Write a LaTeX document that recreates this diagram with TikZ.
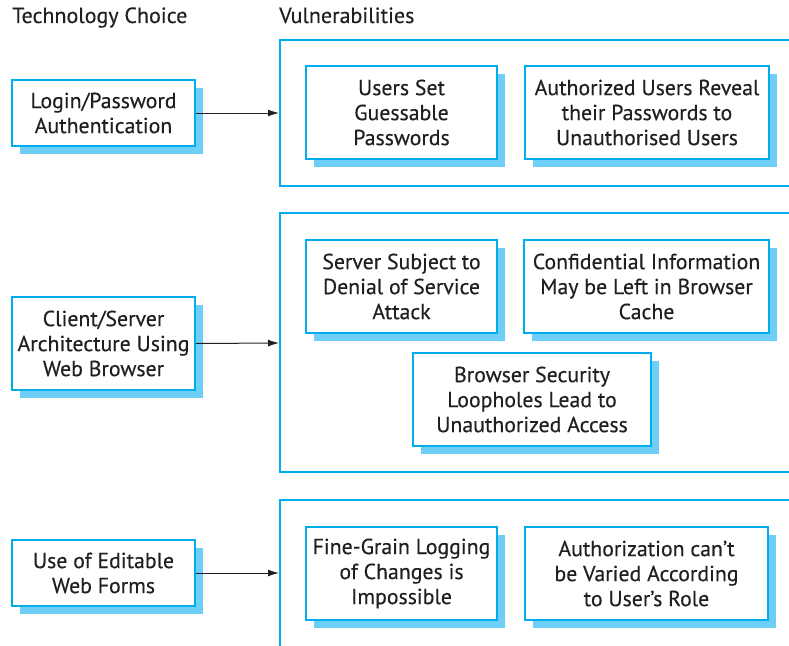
\documentclass[tikz,border=0pt]{standalone}
\usepackage{fontspec}
\setmainfont{PT Sans}[BoldFont=PT Sans, BoldFeatures={FakeBold=0.3}]
\usetikzlibrary{shadows,arrows.meta}
\definecolor{bord}{HTML}{00AEEF}
\definecolor{shad}{HTML}{6DCFF6}
\definecolor{ink}{HTML}{231F20}
\tikzset{
  vbox/.style={draw=bord, line width=2pt, fill=white, align=center, inner sep=0pt,
    text=ink, font=\fontsize{21.8}{25}\selectfont\bfseries,
    drop shadow={shadow xshift=8pt, shadow yshift=-8pt, fill=shad, opacity=1}},
  frame/.style={draw=bord, line width=2pt},
  conn/.style={draw=ink, line width=1pt, -{Latex[length=11pt,width=7pt]}},
  head/.style={text=ink, font=\fontsize{22}{25}\selectfont\bfseries, inner sep=0pt, anchor=base west}
}
\begin{document}
\begin{tikzpicture}[x=1pt,y=-1pt]
\useasboundingbox (0,0) rectangle (789,645);
\node[head] (h1) at (12,23) {Technology Choice};
\node[head] (h2) at (279,23) {Vulnerabilities};
% frames
\draw[frame] (790,40) -- (280,40) -- (280,186) -- (790,186);
\draw[frame] (790,213) -- (280,213) -- (280,472) -- (790,472);
\draw[frame] (790,500) -- (280,500) -- (280,646);
\coordinate (f1) at (279,113);
\coordinate (f2) at (279,343);
\coordinate (f3) at (279,573);
% left boxes
\node[vbox, minimum width=183pt, minimum height=66pt] (login) at (103.5,113) {Login/Password\\Authentication};
\node[vbox, minimum width=183pt, minimum height=93pt] (client) at (103.5,343.5) {Client/Server\\Architecture Using\\Web Browser};
\node[vbox, minimum width=183pt, minimum height=66pt] (forms) at (103.5,573) {Use of Editable\\Web Forms};
% vulnerability boxes
\node[vbox, minimum width=191pt, minimum height=93pt] (guess) at (401.5,112.5) {Users Set\\Guessable\\Passwords};
\node[vbox, minimum width=244pt, minimum height=93pt] (reveal) at (647,112.5) {Authorized Users Reveal\\their Passwords to\\Unauthorised Users};
\node[vbox, minimum width=191pt, minimum height=93pt] (dos) at (401.5,286.5) {Server Subject to\\Denial of Service\\Attack};
\node[vbox, minimum width=245pt, minimum height=93pt] (cache) at (646.5,286.5) {Confidential Information\\May be Left in Browser\\Cache};
\node[vbox, minimum width=238pt, minimum height=93pt] (loop) at (532,399.5) {Browser Security\\Loopholes Lead to\\Unauthorized Access};
\node[vbox, minimum width=191pt, minimum height=93pt] (log) at (401.5,573.5) {Fine-Grain Logging\\of Changes is\\Impossible};
\node[vbox, minimum width=243pt, minimum height=93pt] (role) at (646.5,573.5) {Authorization can’t\\be Varied According\\to User’s Role};
% connectors
\draw[conn] (login.east) -- (f1);
\draw[conn] (client.east) -- (f2);
\draw[conn] (forms.east) -- (f3);
\end{tikzpicture}
\end{document}
